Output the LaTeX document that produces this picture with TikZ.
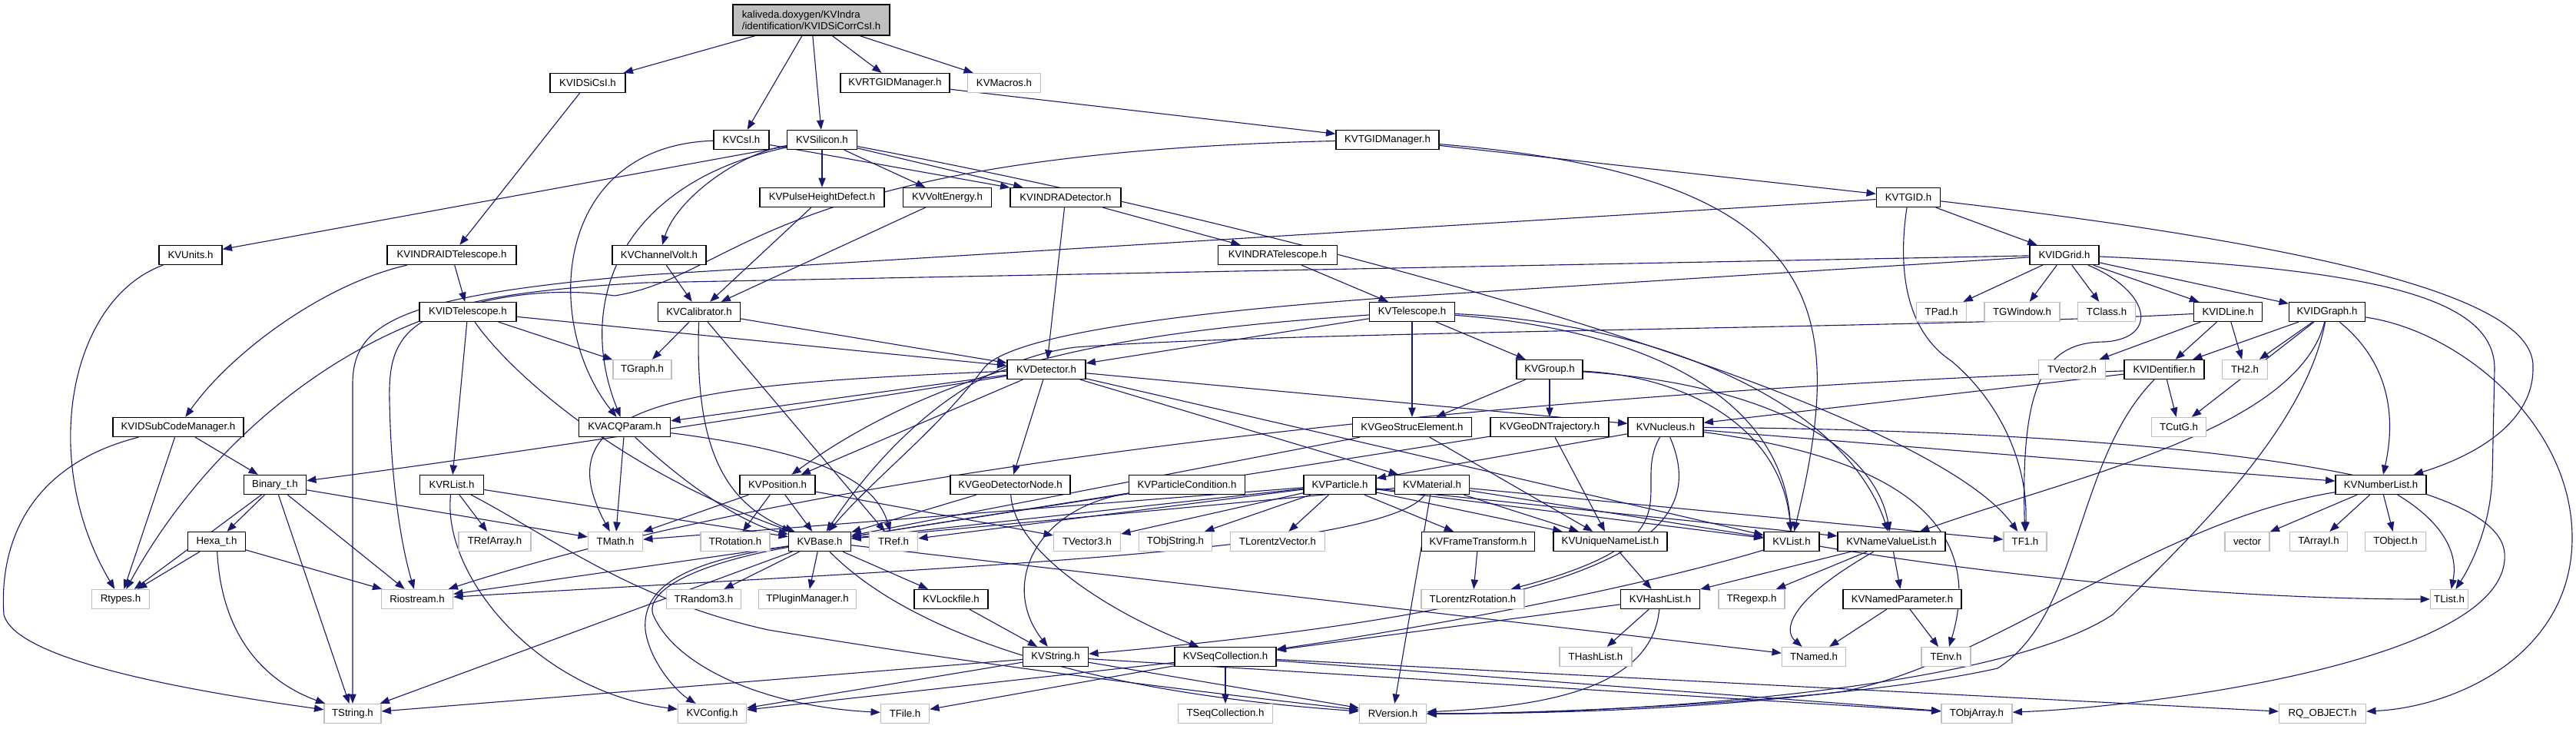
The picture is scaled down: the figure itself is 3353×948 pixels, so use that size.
\documentclass[tikz,border=0pt]{standalone}
\usepackage{fontspec}
\setmainfont{Liberation Sans}
\usetikzlibrary{arrows.meta,backgrounds}
\definecolor{edgec}{HTML}{191970}
\definecolor{extc}{HTML}{BFBFBF}
\begin{document}
\begin{tikzpicture}[x=0.03cm,y=-0.03cm,
  font=\fontsize{11.3}{13}\selectfont,
  kv/.style={draw=black, fill=white, line width=1.1pt, minimum height=0.75cm, inner sep=1pt},
  ex/.style={draw=extc, fill=white, line width=1.1pt, minimum height=0.75cm, inner sep=1pt},
  bw/.style={minimum width=#1*0.03cm},
  e/.style={draw=edgec, line width=0.95pt, -{Triangle[length=0.37cm,width=0.28cm]}}]
\useasboundingbox (0,0) rectangle (3353,948);
% ---------------- nodes ----------------
\node[kv, fill=extc, bw=204, minimum height=1.2cm, align=left] (root) at (1056,26) {kaliveda.doxygen/KVIndra\\/identification/KVIDSiCorrCsI.h};
\node[kv,bw=98] (sicsi) at (765,108) {KVIDSiCsI.h};
\node[kv,bw=142] (rtgid) at (1165,108) {KVRTGIDManager.h};
\node[ex,bw=95] (macros) at (1307,108) {KVMacros.h};
\node[kv,bw=72] (csi) at (965,182) {KVCsI.h};
\node[kv,bw=91] (sil) at (1070,182) {KVSilicon.h};
\node[kv,bw=134] (tgidm) at (1806,182) {KVTGIDManager.h};
\node[kv,bw=162] (phd) at (1070,257) {KVPulseHeightDefect.h};
\node[kv,bw=115] (volt) at (1233,257) {KVVoltEnergy.h};
\node[kv,bw=144] (indet) at (1387,257) {KVINDRADetector.h};
\node[kv,bw=83] (tgid) at (2484,257) {KVTGID.h};
\node[kv,bw=82] (units) at (248,332) {KVUnits.h};
\node[kv,bw=168] (inidt) at (588,332) {KVINDRAIDTelescope.h};
\node[kv,bw=122] (chv) at (858,332) {KVChannelVolt.h};
\node[kv,bw=155] (intel) at (1663,332) {KVINDRATelescope.h};
\node[kv,bw=90] (grid) at (2687,332) {KVIDGrid.h};
\node[kv,bw=126] (idt) at (609,406) {KVIDTelescope.h};
\node[kv,bw=107] (cal) at (910,406) {KVCalibrator.h};
\node[kv,bw=111] (tel) at (1838,406) {KVTelescope.h};
\node[ex,bw=65] (tpad) at (2527,406) {TPad.h};
\node[ex,bw=98] (tgw) at (2632,406) {TGWindow.h};
\node[ex,bw=75] (tclass) at (2742,406) {TClass.h};
\node[kv,bw=89] (idline) at (2900,406) {KVIDLine.h};
\node[kv,bw=99] (idgraph) at (3029,406) {KVIDGraph.h};
\node[ex,bw=76] (tgraph) at (836,481) {TGraph.h};
\node[kv,bw=102] (det) at (1362,481) {KVDetector.h};
\node[kv,bw=86] (group) at (2017,481) {KVGroup.h};
\node[ex,bw=87] (tvec2) at (2697,481) {TVector2.h};
\node[kv,bw=104] (ident) at (2817,481) {KVIDentifier.h};
\node[ex,bw=59] (th2) at (2922,481) {TH2.h};
\node[kv,bw=170] (subcode) at (232,556) {KVIDSubCodeManager.h};
\node[kv,bw=119] (acq) at (813,556) {KVACQParam.h};
\node[kv,bw=155] (gse) at (1838,556) {KVGeoStrucElement.h};
\node[kv,bw=154] (gdnt) at (2017,556) {KVGeoDNTrajectory.h};
\node[kv,bw=98] (nuc) at (2168,556) {KVNucleus.h};
\node[ex,bw=71] (tcutg) at (2836,556) {TCutG.h};
\node[kv,bw=81] (bin) at (358,631) {Binary\_t.h};
\node[kv,bw=83] (rlist) at (588,631) {KVRList.h};
\node[kv,bw=98] (pos) at (1012,631) {KVPosition.h};
\node[kv,bw=156] (gdn) at (1315,631) {KVGeoDetectorNode.h};
\node[kv,bw=151] (pcond) at (1545,631) {KVParticleCondition.h};
\node[kv,bw=94] (part) at (1744,631) {KVParticle.h};
\node[kv,bw=97] (mat) at (1864,631) {KVMaterial.h};
\node[kv,bw=118] (numl) at (3099,631) {KVNumberList.h};
\node[kv,bw=75] (hexa) at (282,705) {Hexa\_t.h};
\node[ex,bw=94] (trefa) at (644,705) {TRefArray.h};
\node[ex,bw=71] (tmath) at (801,705) {TMath.h};
\node[ex,bw=90] (trot) at (957,705) {TRotation.h};
\node[kv,bw=81] (base) at (1067,705) {KVBase.h};
\node[ex,bw=63] (tref) at (1163,705) {TRef.h};
\node[ex,bw=87] (tvec3) at (1415,705) {TVector3.h};
\node[ex,bw=95] (tobjs) at (1530,705) {TObjString.h};
\node[ex,bw=123] (tlv) at (1663,705) {TLorentzVector.h};
\node[kv,bw=147] (ftr) at (1924,705) {KVFrameTransform.h};
\node[kv,bw=148] (unl) at (2096,705) {KVUniqueNameList.h};
\node[kv,bw=72] (list) at (2332,705) {KVList.h};
\node[kv,bw=140] (nvl) at (2462,705) {KVNameValueList.h};
\node[ex,bw=56] (tf1) at (2636,705) {TF1.h};
\node[ex,bw=58] (vector) at (2925,705) {vector};
\node[ex,bw=75] (tarri) at (3018,705) {TArrayI.h};
\node[ex,bw=79] (tobj) at (3118,705) {TObject.h};
\node[ex,bw=75] (rtypes) at (157,780) {Rtypes.h};
\node[ex,bw=93] (rio) at (543,780) {Riostream.h};
\node[ex,bw=97] (trand) at (916,780) {TRandom3.h};
\node[ex,bw=127] (tplug) at (1051,780) {TPluginManager.h};
\node[kv,bw=96] (lock) at (1238,780) {KVLockfile.h};
\node[ex,bw=134] (tlr) at (1917,780) {TLorentzRotation.h};
\node[kv,bw=103] (hash) at (2161,780) {KVHashList.h};
\node[ex,bw=86] (tregexp) at (2280,780) {TRegexp.h};
\node[kv,bw=154] (npar) at (2476,780) {KVNamedParameter.h};
\node[ex,bw=49] (tlist) at (3188,780) {TList.h};
\node[kv,bw=85] (kvstr) at (1374,855) {KVString.h};
\node[kv,bw=132] (seq) at (1595,855) {KVSeqCollection.h};
\node[ex,bw=94] (thash) at (2077,855) {THashList.h};
\node[ex,bw=83] (tnamed) at (2361,855) {TNamed.h};
\node[ex,bw=64] (tenv) at (2533,855) {TEnv.h};
\node[ex,bw=74] (tstr) at (459,929) {TString.h};
\node[ex,bw=89] (kvconf) at (927,929) {KVConfig.h};
\node[ex,bw=63] (tfile) at (1178,929) {TFile.h};
\node[ex,bw=123] (tseq) at (1595,929) {TSeqCollection.h};
\node[ex,bw=87] (rver) at (1813,929) {RVersion.h};
\node[ex,bw=92] (tobja) at (2573,929) {TObjArray.h};
\node[ex,bw=113] (rq) at (3023,929) {RQ\_OBJECT.h};
% ---------------- edges ----------------
\begin{scope}[on background layer]
\draw[e] (root) -- (sicsi);
\draw[e] (root) -- (csi);
\draw[e] (root) -- (sil);
\draw[e] (root) -- (rtgid);
\draw[e] (root) -- (macros);
\draw[e] (sicsi) -- (inidt);
\draw[e] (rtgid) -- (tgidm);
\draw[e] (csi) -- (indet);
\draw[e] (csi) .. controls (720,190) and (705,420) .. (acq);
\draw[e] (sil) -- (units);
\draw[e] (sil) .. controls (960,200) and (880,260) .. (chv);
\draw[e] (sil) -- (phd);
\draw[e] (sil) -- (volt);
\draw[e] (sil) -- (indet);
\draw[e] (sil) .. controls (800,240) and (750,400) .. (acq);
\draw[e] (sil) .. controls (1700,300) and (2500,520) .. (tf1);
\draw[e] (tgidm) -- (tgid);
\draw[e] (tgidm) .. controls (2380,230) and (2406,400) .. (list);
\draw[e] (tgidm) .. controls (1000,200) and (960,360) .. (800,385) .. controls (560,350) and (300,520) .. (rtypes);
\draw[e] (tgid) -- (grid);
\draw[e] (tgid) .. controls (3200,340) and (3300,420) .. (3297,480) .. controls (3297,560) and (3200,600) .. (numl);
\draw[e] (tgid) -- (840,358) .. controls (520,385) and (459,420) .. (459,500) -- (tstr);
\draw[e] (tgid) .. controls (2470,350) and (2480,430) .. (2540,470) .. controls (2600,520) and (2640,600) .. (tf1);
\draw[e] (phd) -- (cal);
\draw[e] (volt) -- (cal);
\draw[e] (chv) -- (cal);
\draw[e] (indet) -- (det);
\draw[e] (indet) -- (intel);
\draw[e] (units) .. controls (90,390) and (50,600) .. (rtypes);
\draw[e] (inidt) -- (idt);
\draw[e] (inidt) .. controls (420,370) and (300,460) .. (subcode);
\draw[e] (intel) -- (tel);
\draw[e] (grid) -- (tpad);
\draw[e] (grid) -- (tgw);
\draw[e] (grid) -- (tclass);
\draw[e] (grid) -- (idline);
\draw[e] (grid) -- (idgraph);
\draw[e] (grid) .. controls (3100,350) and (3247,390) .. (3247,480) -- (3244,620) .. controls (3242,680) and (3220,730) .. (tlist);
\draw[e] (grid) -- (840,368) .. controls (540,385) and (505,420) .. (507,520) .. controls (509,640) and (525,720) .. (rio);
\draw[e] (grid) .. controls (2800,380) and (2810,440) .. (2740,445) .. controls (2660,445) and (2630,500) .. (tf1);
\draw[e] (grid) -- (1800,388) .. controls (1500,410) and (1310,440) .. (1280,480) .. controls (1220,560) and (1140,620) .. (base);
\draw[e] (idt) -- (det);
\draw[e] (idt) -- (tgraph);
\draw[e] (idt) -- (rlist);
\draw[e] (idt) .. controls (660,480) and (800,610) .. (base);
\draw[e] (cal) -- (tgraph);
\draw[e] (cal) -- (det);
\draw[e] (cal) .. controls (905,560) and (930,650) .. (base);
\draw[e] (cal) -- (tref);
\draw[e] (tel) -- (det);
\draw[e] (tel) .. controls (1500,430) and (1250,460) .. (pos);
\draw[e] (tel) -- (group);
\draw[e] (tel) -- (gse);
\draw[e] (tel) .. controls (2150,430) and (2320,520) .. (list);
\draw[e] (tel) .. controls (2150,420) and (2400,520) .. (nvl);
\draw[e] (idline) -- (tvec2);
\draw[e] (idline) -- (ident);
\draw[e] (idline) -- (th2);
\draw[e] (idline) .. controls (2500,428) and (1700,430) .. (1400,452) .. controls (1260,470) and (1150,580) .. (base);
\draw[e] (idgraph) -- (ident);
\draw[e] (idgraph) -- (th2);
\draw[e] (idgraph) -- (tcutg);
\draw[e] (idgraph) .. controls (2990,560) and (2700,620) .. (nvl);
\draw[e] (idgraph) .. controls (3000,560) and (2850,700) .. (2750,800) .. controls (2600,900) and (2100,930) .. (rver);
\draw[e] (idgraph) .. controls (3120,480) and (3115,560) .. (numl);
\draw[e] (idgraph) .. controls (3200,430) and (3348,550) .. (3348,700) .. controls (3348,850) and (3200,920) .. (rq);
\draw[e] (ident) -- (tcutg);
\draw[e] (ident) -- (nuc);
\draw[e] (ident) .. controls (2000,510) and (1100,600) .. (rio);
\draw[e] (ident) .. controls (2700,600) and (2710,800) .. (2600,870) .. controls (2400,915) and (2000,929) .. (rver);
\draw[e] (det) -- (acq);
\draw[e] (det) -- (pos);
\draw[e] (det) -- (gdn);
\draw[e] (det) -- (mat);
\draw[e] (det) -- (nuc);
\draw[e] (det) -- (list);
\draw[e] (det) .. controls (1000,540) and (600,600) .. (bin);
\draw[e] (det) .. controls (900,500) and (700,520) .. (tmath);
\draw[e] (group) -- (gse);
\draw[e] (group) -- (gdnt);
\draw[e] (group) .. controls (2200,490) and (2320,560) .. (list);
\draw[e] (group) .. controls (2300,500) and (2440,580) .. (nvl);
\draw[e] (gse) -- (base);
\draw[e] (gse) -- (unl);
\draw[e] (gdnt) -- (unl);
\draw[e] (gdnt) -- (base);
\draw[e] (nuc) -- (part);
\draw[e] (nuc) -- (numl);
\draw[e] (nuc) .. controls (2700,560) and (3250,600) .. (3260,720) .. controls (3270,860) and (2800,920) .. (tobja);
\draw[e] (nuc) .. controls (2120,640) and (2220,700) .. (tlr);
\draw[e] (nuc) .. controls (2230,700) and (2100,790) .. (kvstr);
\draw[e] (nuc) .. controls (2500,600) and (2580,700) .. (tenv);
\draw[e] (part) -- (tlv);
\draw[e] (part) -- (ftr);
\draw[e] (part) -- (unl);
\draw[e] (part) -- (list);
\draw[e] (part) -- (nvl);
\draw[e] (part) -- (tvec3);
\draw[e] (part) -- (tobjs);
\draw[e] (part) -- (base);
\draw[e] (part) -- (tmath);
\draw[e] (part) -- (tref);
\draw[e] (mat) -- (base);
\draw[e] (mat) -- (list);
\draw[e] (mat) -- (tf1);
\draw[e] (mat) -- (rver);
\draw[e] (mat) -- (unl);
\draw[e] (mat) .. controls (1800,720) and (1200,740) .. (rio);
\draw[e] (pcond) -- (base);
\draw[e] (pcond) .. controls (1350,660) and (1300,760) .. (kvstr);
\draw[e] (pos) -- (base);
\draw[e] (pos) -- (trot);
\draw[e] (pos) -- (tvec3);
\draw[e] (pos) -- (tmath);
\draw[e] (gdn) -- (base);
\draw[e] (gdn) .. controls (1320,720) and (1450,800) .. (seq);
\draw[e] (acq) .. controls (880,620) and (960,680) .. (base);
\draw[e] (acq) .. controls (1080,590) and (1140,630) .. (tref);
\draw[e] (acq) -- (tmath);
\draw[e] (rlist) -- (trefa);
\draw[e] (rlist) -- (base);
\draw[e] (rlist) .. controls (575,750) and (700,900) .. (kvconf);
\draw[e] (rlist) .. controls (720,700) and (820,780) .. (1000,820) .. controls (1300,870) and (1600,905) .. (rver);
\draw[e] (bin) -- (rtypes);
\draw[e] (bin) -- (hexa);
\draw[e] (bin) -- (tstr);
\draw[e] (bin) -- (rio);
\draw[e] (bin) -- (tmath);
\draw[e] (hexa) -- (rtypes);
\draw[e] (hexa) -- (rio);
\draw[e] (hexa) .. controls (290,860) and (380,900) .. (tstr);
\draw[e] (subcode) -- (bin);
\draw[e] (subcode) -- (rtypes);
\draw[e] (subcode) .. controls (20,610) and (0,730) .. (5,800) .. controls (20,860) and (250,900) .. (tstr);
\draw[e] (base) -- (trand);
\draw[e] (base) -- (tplug);
\draw[e] (base) -- (lock);
\draw[e] (base) -- (tstr);
\draw[e] (base) -- (rio);
\draw[e] (base) .. controls (900,730) and (835,760) .. (840,820) .. controls (845,860) and (880,900) .. (kvconf);
\draw[e] (base) .. controls (900,735) and (840,770) .. (850,800) .. controls (880,870) and (1000,920) .. (tfile);
\draw[e] (base) .. controls (1180,820) and (1400,900) .. (rver);
\draw[e] (base) -- (tnamed);
\draw[e] (lock) -- (kvstr);
\draw[e] (ftr) -- (tlr);
\draw[e] (unl) -- (hash);
\draw[e] (list) .. controls (2150,760) and (1900,810) .. (seq);
\draw[e] (list) .. controls (2600,750) and (2900,780) .. (tlist);
\draw[e] (nvl) -- (hash);
\draw[e] (nvl) -- (tregexp);
\draw[e] (nvl) -- (npar);
\draw[e] (nvl) .. controls (2330,780) and (2320,820) .. (tnamed);
\draw[e] (npar) -- (tnamed);
\draw[e] (npar) -- (tenv);
\draw[e] (hash) -- (thash);
\draw[e] (hash) .. controls (2150,900) and (2000,920) .. (rver);
\draw[e] (hash) -- (seq);
\draw[e] (seq) -- (tseq);
\draw[e] (seq) -- (tfile);
\draw[e] (seq) -- (kvconf);
\draw[e] (seq) -- (tobja);
\draw[e] (seq) -- (rq);
\draw[e] (kvstr) -- (tstr);
\draw[e] (kvstr) -- (kvconf);
\draw[e] (kvstr) -- (rver);
\draw[e] (kvstr) -- (tobja);
\draw[e] (numl) -- (vector);
\draw[e] (numl) -- (tarri);
\draw[e] (numl) -- (tobj);
\draw[e] (numl) .. controls (3180,680) and (3200,720) .. (tlist);
\draw[e] (numl) .. controls (2800,680) and (2600,860) .. (2400,900) .. controls (2200,925) and (2000,929) .. (rver);
\end{scope}
\end{tikzpicture}
\end{document}
